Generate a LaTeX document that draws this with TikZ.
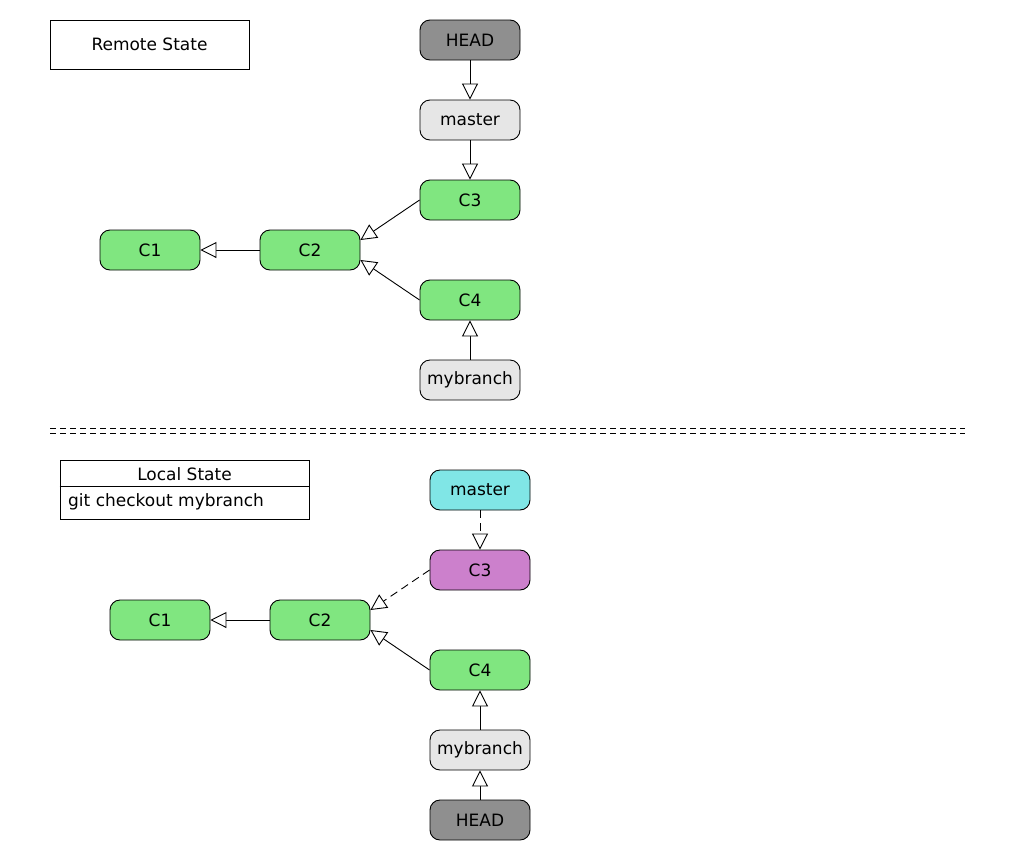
\documentclass[tikz,border=0pt]{standalone}
\usepackage{fontspec}
\setmainfont{DejaVu Sans}
\usetikzlibrary{arrows.meta,calc}
\definecolor{cgreen}{RGB}{128,230,128}
\definecolor{chead}{RGB}{143,143,143}
\definecolor{cbranch}{RGB}{230,230,230}
\definecolor{ccyan}{RGB}{128,230,230}
\definecolor{cpurple}{RGB}{204,128,204}
\tikzset{
  every node/.style={font=\fontsize{17}{20}\selectfont},
  gnode/.style={draw, line width=0.9pt, rounded corners=10pt, minimum width=100pt, minimum height=40pt, inner sep=0pt},
  commit/.style={gnode, fill=cgreen},
  headref/.style={gnode, fill=chead},
  branchref/.style={gnode, fill=cbranch},
  conn/.style={line width=0.9pt, -{Triangle[open, length=16pt, width=16pt, fill=white]}},
  dconn/.style={conn, dash pattern=on 8pt off 5pt},
  sep/.style={line width=0.9pt, dash pattern=on 6pt off 4pt},
}
\begin{document}
\begin{tikzpicture}[x=1pt,y=-1pt]
\useasboundingbox (0,0) rectangle (1010,860);
% Remote
\node[draw, line width=0.9pt, minimum width=199pt, minimum height=49pt, inner sep=0pt] (remote) at (149.5,44.5) {Remote State};
\node[headref] (rhead) at (470,40) {HEAD};
\node[branchref] (rmaster) at (470,120) {master};
\node[commit] (rc3) at (470,200) {C3};
\node[commit] (rc2) at (310,250) {C2};
\node[commit] (rc1) at (150,250) {C1};
\node[commit] (rc4) at (470,300) {C4};
\node[branchref] (rmyb) at (470,380) {mybranch};
\draw[conn] (rhead) -- (rmaster);
\draw[conn] (rmaster) -- (rc3);
\draw[conn] (rc3.west) -- ([yshift=10pt]rc2.east);
\draw[conn] (rc4.west) -- ([yshift=-10pt]rc2.east);
\draw[conn] (rc2) -- (rc1);
\draw[conn] (rmyb) -- (rc4);
% separator
\draw[sep] (50,428) -- (965,428);
\draw[sep] (50,433) -- (965,433);
% Local
\node[draw, line width=0.9pt, minimum width=249pt, minimum height=59pt, inner sep=0pt] (local) at (184.5,489.5) {};
\draw[line width=0.9pt] (local.west |- 0,486) coordinate (dl) -- (local.east |- 0,486) coordinate (dr);
\node (ltitle) at (184.5,474) {Local State};
\node[anchor=west, inner sep=0pt] (lcmd) at (68,501.5) {git checkout mybranch};
\node[gnode, fill=ccyan] (lmaster) at (480,490) {master};
\node[gnode, fill=cpurple] (lc3) at (480,570) {C3};
\node[commit] (lc2) at (320,620) {C2};
\node[commit] (lc1) at (160,620) {C1};
\node[commit] (lc4) at (480,670) {C4};
\node[branchref] (lmyb) at (480,750) {mybranch};
\node[headref] (lhead) at (480,820) {HEAD};
\draw[dconn] (lmaster) -- (lc3);
\draw[dconn] (lc3.west) -- ([yshift=10pt]lc2.east);
\draw[conn] (lc4.west) -- ([yshift=-10pt]lc2.east);
\draw[conn] (lc2) -- (lc1);
\draw[conn] (lmyb) -- (lc4);
\draw[conn] (lhead) -- (lmyb);
\end{tikzpicture}
\end{document}
